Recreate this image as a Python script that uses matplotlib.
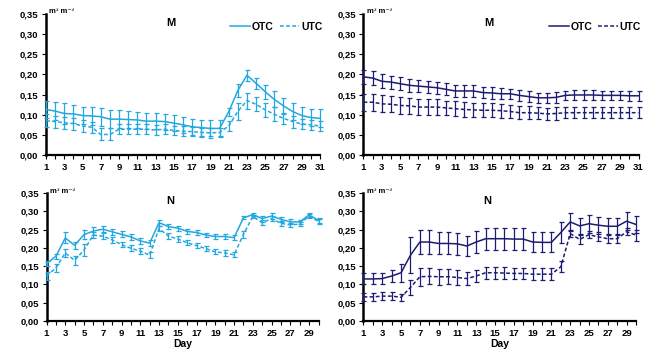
import matplotlib
matplotlib.use("Agg")
import matplotlib.pyplot as plt
from matplotlib.lines import Line2D

plt.rcParams['font.family'] = ['Liberation Sans', 'DejaVu Sans']
plt.rcParams['font.weight'] = 'bold'

LIGHT = '#22A8E0'
NAVY = '#1C1C72'

days_top = list(range(1, 32))
days_bot = list(range(1, 31))

# Top-left (M, light blue)
tl_otc = [0.113,0.109,0.103,0.102,0.098,0.097,0.095,0.089,0.089,0.088,0.087,0.084,0.084,0.083,0.079,0.075,0.070,0.068,0.066,0.066,0.107,0.160,0.198,0.178,0.157,0.138,0.122,0.108,0.098,0.093,0.091]
tl_otc_err = [0.022,0.022,0.025,0.022,0.022,0.022,0.022,0.022,0.022,0.02,0.02,0.02,0.02,0.02,0.02,0.02,0.02,0.02,0.02,0.02,0.01,0.017,0.014,0.014,0.017,0.02,0.02,0.02,0.022,0.022,0.022]
tl_utc = [0.085,0.083,0.080,0.078,0.072,0.069,0.051,0.051,0.064,0.064,0.064,0.064,0.062,0.064,0.061,0.059,0.058,0.056,0.055,0.056,0.072,0.108,0.135,0.126,0.112,0.101,0.091,0.083,0.077,0.075,0.072]
tl_utc_err = [0.016,0.015,0.015,0.015,0.014,0.014,0.015,0.015,0.013,0.013,0.012,0.012,0.012,0.012,0.012,0.012,0.012,0.012,0.012,0.012,0.012,0.022,0.02,0.017,0.018,0.017,0.013,0.015,0.013,0.013,0.012]

# Top-right (M, navy)
tr_otc = [0.194,0.191,0.183,0.181,0.177,0.173,0.171,0.169,0.167,0.163,0.159,0.159,0.159,0.155,0.154,0.152,0.152,0.148,0.145,0.142,0.142,0.143,0.148,0.149,0.149,0.149,0.148,0.148,0.148,0.147,0.147]
tr_otc_err = [0.017,0.017,0.017,0.016,0.016,0.016,0.015,0.015,0.015,0.015,0.015,0.015,0.015,0.014,0.014,0.014,0.013,0.013,0.013,0.013,0.013,0.013,0.012,0.012,0.012,0.012,0.012,0.012,0.012,0.012,0.012]
tr_utc = [0.131,0.131,0.127,0.126,0.123,0.122,0.119,0.119,0.119,0.117,0.115,0.113,0.112,0.111,0.111,0.110,0.108,0.105,0.105,0.104,0.102,0.103,0.105,0.105,0.105,0.105,0.105,0.105,0.105,0.105,0.105]
tr_utc_err = [0.021,0.021,0.021,0.02,0.02,0.02,0.02,0.019,0.019,0.018,0.018,0.018,0.018,0.017,0.017,0.017,0.016,0.016,0.016,0.015,0.015,0.015,0.014,0.014,0.013,0.013,0.013,0.013,0.013,0.013,0.013]

# Bottom-left (N, light blue)
bl_otc = [0.157,0.177,0.227,0.207,0.236,0.246,0.251,0.244,0.237,0.230,0.219,0.213,0.269,0.258,0.254,0.245,0.242,0.235,0.231,0.231,0.228,0.282,0.291,0.280,0.287,0.278,0.271,0.271,0.290,0.275]
bl_otc_err = [0.006,0.007,0.015,0.01,0.013,0.01,0.008,0.008,0.008,0.008,0.008,0.008,0.008,0.007,0.007,0.006,0.006,0.006,0.006,0.006,0.006,0.004,0.005,0.008,0.008,0.007,0.007,0.006,0.006,0.006]
bl_utc = [0.123,0.145,0.186,0.166,0.194,0.235,0.232,0.222,0.209,0.199,0.191,0.180,0.253,0.232,0.224,0.214,0.206,0.198,0.189,0.186,0.181,0.237,0.286,0.269,0.280,0.267,0.263,0.265,0.287,0.272]
bl_utc_err = [0.012,0.012,0.012,0.013,0.017,0.009,0.008,0.008,0.008,0.008,0.008,0.008,0.008,0.008,0.008,0.007,0.007,0.007,0.007,0.007,0.007,0.01,0.005,0.006,0.006,0.006,0.006,0.006,0.005,0.006]

# Bottom-right (N, navy)
br_otc = [0.115,0.115,0.116,0.123,0.132,0.180,0.216,0.216,0.212,0.212,0.211,0.205,0.216,0.225,0.225,0.225,0.224,0.224,0.216,0.215,0.215,0.242,0.271,0.260,0.266,0.262,0.259,0.259,0.273,0.264]
br_otc_err = [0.015,0.015,0.016,0.016,0.025,0.05,0.033,0.033,0.03,0.03,0.03,0.027,0.03,0.03,0.03,0.03,0.03,0.03,0.027,0.027,0.027,0.03,0.025,0.023,0.025,0.023,0.023,0.023,0.025,0.023]
br_utc = [0.066,0.066,0.068,0.068,0.065,0.092,0.121,0.122,0.121,0.121,0.119,0.116,0.123,0.132,0.132,0.131,0.130,0.130,0.128,0.128,0.128,0.148,0.239,0.223,0.236,0.230,0.225,0.225,0.244,0.235]
br_utc_err = [0.01,0.01,0.01,0.01,0.01,0.02,0.025,0.022,0.022,0.02,0.02,0.018,0.017,0.017,0.017,0.016,0.016,0.016,0.016,0.016,0.016,0.015,0.01,0.012,0.01,0.012,0.012,0.012,0.01,0.015]

y_ticks = [0.00, 0.05, 0.10, 0.15, 0.20, 0.25, 0.30, 0.35]

fig = plt.figure(figsize=(6.53, 3.56), dpi=100)
W, H = 653.0, 356.0

def mkax(x0, x1, y0, y1):
    return fig.add_axes([x0 / W, 1 - y1 / H, (x1 - x0) / W, (y1 - y0) / H])

axes = [
    (mkax(46, 320, 14, 155), days_top, tl_otc, tl_otc_err, tl_utc, tl_utc_err, LIGHT, 'M', True, False),
    (mkax(363.5, 638.5, 14, 155), days_top, tr_otc, tr_otc_err, tr_utc, tr_utc_err, NAVY, 'M', True, False),
    (mkax(46.5, 318.5, 193, 321), days_bot, bl_otc, bl_otc_err, bl_utc, bl_utc_err, LIGHT, 'N', False, True),
    (mkax(363.5, 636, 193, 321), days_bot, br_otc, br_otc_err, br_utc, br_utc_err, NAVY, 'N', False, True),
]

for ax, days, otc, otce, utc, utce, col, title, leg, xl in axes:
    ax.errorbar(days, otc, yerr=otce, color=col, lw=1.1, elinewidth=0.9,
                capsize=1.8, capthick=0.9, ls='-', clip_on=False, zorder=3)
    ax.errorbar(days, utc, yerr=utce, color=col, lw=1.1, elinewidth=0.9,
                capsize=1.8, capthick=0.9, ls=(0, (2.5, 1.5)), clip_on=False, zorder=3)
    ax.set_xlim(days[0], days[-1])
    ax.set_ylim(0, 0.35)
    ax.set_yticks(y_ticks)
    ax.set_yticklabels([('%.2f' % v).replace('.', ',') for v in y_ticks])
    ax.set_xticks(days)
    ax.set_xticklabels([str(d) if d % 2 == 1 else '' for d in days])
    for s in ['top', 'right']:
        ax.spines[s].set_visible(False)
    ax.spines['left'].set_linewidth(1.8)
    ax.spines['bottom'].set_linewidth(1.6)
    ax.tick_params(axis='both', labelsize=6.8, length=3, width=0.8, pad=2.5)
    for lbl in ax.get_xticklabels() + ax.get_yticklabels():
        lbl.set_fontweight('bold')
    ax.text(0.455, 0.975, title, transform=ax.transAxes, ha='center', va='top',
            fontsize=8, fontweight='bold')
    ax.text(0.012, 1.015, 'm³ m⁻³', transform=ax.transAxes, ha='left', va='center',
            fontsize=5.5, fontweight='bold')
    if xl:
        ax.set_xlabel('Day', fontsize=7.5, fontweight='bold', labelpad=1)
    if leg:
        handles = [Line2D([], [], color=col, lw=1.1, ls='-'),
                   Line2D([], [], color=col, lw=1.1, ls=(0, (2.5, 1.5)))]
        ax.legend(handles, ['OTC', 'UTC'], loc='upper right', bbox_to_anchor=(1.035, 0.995),
                  ncol=2, frameon=False, handlelength=1.9,
                  handletextpad=0.15, columnspacing=0.6, borderpad=0.2,
                  prop={'weight': 'bold', 'size': 7.5})

fig.savefig('out.png', dpi=100)
